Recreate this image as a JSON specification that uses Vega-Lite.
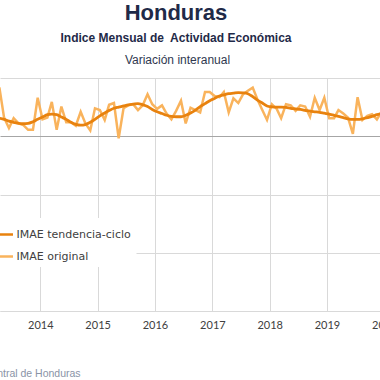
{
  "$schema": "https://vega.github.io/schema/vega-lite/v6.json",
  "width": 386,
  "height": 233,
  "autosize": {"type": "none"},
  "padding": {"left": 0, "top": 78, "right": -6, "bottom": 69},
  "background": "white",
  "title": {
    "text": "Honduras",
    "subtitle": "Indice Mensual de\u00a0 Actividad Económica",
    "anchor": "middle",
    "frame": "group",
    "dx": -17,
    "offset": 8,
    "font": "Liberation Sans",
    "fontSize": 22,
    "fontWeight": "bold",
    "color": "#1f2a48",
    "subtitleFont": "Liberation Sans",
    "subtitleFontSize": 12,
    "subtitleFontWeight": "bold",
    "subtitleColor": "#1f2a48",
    "subtitlePadding": 8
  },
  "config": {
    "view": {"stroke": null},
    "legend": {
      "orient": "none",
      "legendX": -13.5,
      "legendY": 140,
      "fillColor": "white",
      "padding": 5,
      "symbolType": "stroke",
      "symbolSize": 400,
      "symbolStrokeWidth": 2.5,
      "labelFont": "DejaVu Sans",
      "labelFontSize": 11,
      "labelColor": "#404040",
      "labelOffset": 2,
      "rowPadding": 5
    }
  },
  "data": {
    "values": [
      {"fecha": "2013-04-15", "original": 8.4, "tendencia": 3.1},
      {"fecha": "2013-05-15", "original": 3.2, "tendencia": 2.9},
      {"fecha": "2013-06-15", "original": 1.4, "tendencia": 2.6},
      {"fecha": "2013-07-15", "original": 3.1, "tendencia": 2.4},
      {"fecha": "2013-08-15", "original": 2.2, "tendencia": 2.2},
      {"fecha": "2013-09-15", "original": 1.9, "tendencia": 2.15},
      {"fecha": "2013-10-15", "original": 1.1, "tendencia": 2.2},
      {"fecha": "2013-11-15", "original": 1.1, "tendencia": 2.5},
      {"fecha": "2013-12-15", "original": 6.6, "tendencia": 2.9},
      {"fecha": "2014-01-15", "original": 2.9, "tendencia": 3.3},
      {"fecha": "2014-02-15", "original": 3.2, "tendencia": 3.7},
      {"fecha": "2014-03-15", "original": 5.9, "tendencia": 3.8},
      {"fecha": "2014-04-15", "original": 1.1, "tendencia": 3.7},
      {"fecha": "2014-05-15", "original": 5.1, "tendencia": 3.3},
      {"fecha": "2014-06-15", "original": 2.4, "tendencia": 2.9},
      {"fecha": "2014-07-15", "original": 2.4, "tendencia": 2.4},
      {"fecha": "2014-08-15", "original": 1.8, "tendencia": 2.05},
      {"fecha": "2014-09-15", "original": 4.2, "tendencia": 1.9},
      {"fecha": "2014-10-15", "original": 2.2, "tendencia": 2.0},
      {"fecha": "2014-11-15", "original": 1.0, "tendencia": 2.4},
      {"fecha": "2014-12-15", "original": 4.8, "tendencia": 2.9},
      {"fecha": "2015-01-15", "original": 4.5, "tendencia": 3.5},
      {"fecha": "2015-02-15", "original": 2.8, "tendencia": 4.0},
      {"fecha": "2015-03-15", "original": 5.4, "tendencia": 4.4},
      {"fecha": "2015-04-15", "original": 5.7, "tendencia": 4.8},
      {"fecha": "2015-05-15", "original": -0.35, "tendencia": 5.0},
      {"fecha": "2015-06-15", "original": 4.8, "tendencia": 5.2},
      {"fecha": "2015-07-15", "original": 5.3, "tendencia": 5.4},
      {"fecha": "2015-08-15", "original": 5.5, "tendencia": 5.5},
      {"fecha": "2015-09-15", "original": 4.5, "tendencia": 5.6},
      {"fecha": "2015-10-15", "original": 5.3, "tendencia": 5.4},
      {"fecha": "2015-11-15", "original": 7.2, "tendencia": 5.1},
      {"fecha": "2015-12-15", "original": 5.5, "tendencia": 4.6},
      {"fecha": "2016-01-15", "original": 4.7, "tendencia": 4.2},
      {"fecha": "2016-02-15", "original": 5.3, "tendencia": 3.9},
      {"fecha": "2016-03-15", "original": 3.9, "tendencia": 3.6},
      {"fecha": "2016-04-15", "original": 2.9, "tendencia": 3.4},
      {"fecha": "2016-05-15", "original": 4.35, "tendencia": 3.35},
      {"fecha": "2016-06-15", "original": 6.1, "tendencia": 3.35},
      {"fecha": "2016-07-15", "original": 2.2, "tendencia": 3.6},
      {"fecha": "2016-08-15", "original": 4.9, "tendencia": 4.0},
      {"fecha": "2016-09-15", "original": 4.5, "tendencia": 4.5},
      {"fecha": "2016-10-15", "original": 4.1, "tendencia": 5.1},
      {"fecha": "2016-11-15", "original": 7.6, "tendencia": 5.6},
      {"fecha": "2016-12-15", "original": 7.6, "tendencia": 6.1},
      {"fecha": "2017-01-15", "original": 6.9, "tendencia": 6.5},
      {"fecha": "2017-02-15", "original": 6.7, "tendencia": 6.9},
      {"fecha": "2017-03-15", "original": 7.6, "tendencia": 7.1},
      {"fecha": "2017-04-15", "original": 4.1, "tendencia": 7.3},
      {"fecha": "2017-05-15", "original": 6.5, "tendencia": 7.4},
      {"fecha": "2017-06-15", "original": 5.7, "tendencia": 7.5},
      {"fecha": "2017-07-15", "original": 7.2, "tendencia": 7.45},
      {"fecha": "2017-08-15", "original": 7.8, "tendencia": 7.3},
      {"fecha": "2017-09-15", "original": 8.35, "tendencia": 6.8},
      {"fecha": "2017-10-15", "original": 6.3, "tendencia": 6.2},
      {"fecha": "2017-11-15", "original": 4.5, "tendencia": 5.7},
      {"fecha": "2017-12-15", "original": 2.8, "tendencia": 5.2},
      {"fecha": "2018-01-15", "original": 5.5, "tendencia": 5.05},
      {"fecha": "2018-02-15", "original": 4.7, "tendencia": 5.0},
      {"fecha": "2018-03-15", "original": 3.1, "tendencia": 5.0},
      {"fecha": "2018-04-15", "original": 5.5, "tendencia": 4.95},
      {"fecha": "2018-05-15", "original": 5.3, "tendencia": 4.8},
      {"fecha": "2018-06-15", "original": 4.35, "tendencia": 4.7},
      {"fecha": "2018-07-15", "original": 5.3, "tendencia": 4.6},
      {"fecha": "2018-08-15", "original": 5.1, "tendencia": 4.45},
      {"fecha": "2018-09-15", "original": 3.35, "tendencia": 4.3},
      {"fecha": "2018-10-15", "original": 6.6, "tendencia": 4.2},
      {"fecha": "2018-11-15", "original": 4.5, "tendencia": 4.1},
      {"fecha": "2018-12-15", "original": 6.6, "tendencia": 3.95},
      {"fecha": "2019-01-15", "original": 3.1, "tendencia": 3.8},
      {"fecha": "2019-02-15", "original": 3.1, "tendencia": 3.6},
      {"fecha": "2019-03-15", "original": 4.5, "tendencia": 3.4},
      {"fecha": "2019-04-15", "original": 3.9, "tendencia": 3.2},
      {"fecha": "2019-05-15", "original": 3.2, "tendencia": 3.0},
      {"fecha": "2019-06-15", "original": 0.4, "tendencia": 2.9},
      {"fecha": "2019-07-15", "original": 6.7, "tendencia": 2.9},
      {"fecha": "2019-08-15", "original": 2.8, "tendencia": 3.0},
      {"fecha": "2019-09-15", "original": 3.5, "tendencia": 3.2},
      {"fecha": "2019-10-15", "original": 3.8, "tendencia": 3.4},
      {"fecha": "2019-11-15", "original": 2.9, "tendencia": 3.7},
      {"fecha": "2019-12-15", "original": 4.2, "tendencia": 3.9}
    ]
  },
  "encoding": {
    "x": {
      "field": "fecha",
      "type": "temporal",
      "scale": {"domain": [{"year": 2013, "month": 4, "date": 19}, {"year": 2020, "month": 1, "date": 12}]},
      "axis": {
        "format": "%Y",
        "tickCount": {"interval": "year", "step": 1},
        "grid": true,
        "gridColor": "#d9d9d9",
        "ticks": false,
        "domainColor": "#d9d9d9",
        "labelFont": "Lato",
        "labelFontSize": 11,
        "labelColor": "#404040",
        "labelPadding": 8,
        "labelDx": 3,
        "labelFlush": false,
        "labelOverlap": false,
        "title": "Fuente: Banco Central de Honduras",
        "titleX": -88,
        "titleY": 62,
        "titleAlign": "left",
        "titleBaseline": "middle",
        "titleFont": "Liberation Sans",
        "titleFontSize": 10.5,
        "titleFontWeight": "normal",
        "titleColor": "#8a93a6"
      }
    }
  },
  "layer": [
    {
      "mark": {"type": "line", "strokeWidth": 2.5, "clip": true},
      "encoding": {
        "y": {
          "field": "original",
          "type": "quantitative",
          "scale": {"domain": [-30, 10]},
          "axis": {
            "values": [-30, -25, -20, -15, -10, -5, 0, 5, 10],
            "labels": false,
            "ticks": false,
            "domain": false,
            "grid": true,
            "gridColor": {"condition": {"test": "datum.value === 0", "value": "#a6a6a6"}, "value": "#d9d9d9"},
            "title": "Variación interanual",
            "titleAngle": 0,
            "titleX": 177,
            "titleY": -19,
            "titleAlign": "center",
            "titleBaseline": "middle",
            "titleFont": "Liberation Sans",
            "titleFontSize": 12,
            "titleFontWeight": "normal",
            "titleColor": "#2f3850"
          }
        },
        "color": {
          "datum": "IMAE original",
          "scale": {"domain": ["IMAE tendencia-ciclo", "IMAE original"], "range": ["#E8820E", "#F9B35C"]},
          "legend": {"title": null}
        }
      }
    },
    {
      "mark": {"type": "line", "strokeWidth": 2.8, "clip": true, "interpolate": "monotone"},
      "encoding": {
        "y": {"field": "tendencia", "type": "quantitative"},
        "color": {"datum": "IMAE tendencia-ciclo"}
      }
    }
  ]
}
